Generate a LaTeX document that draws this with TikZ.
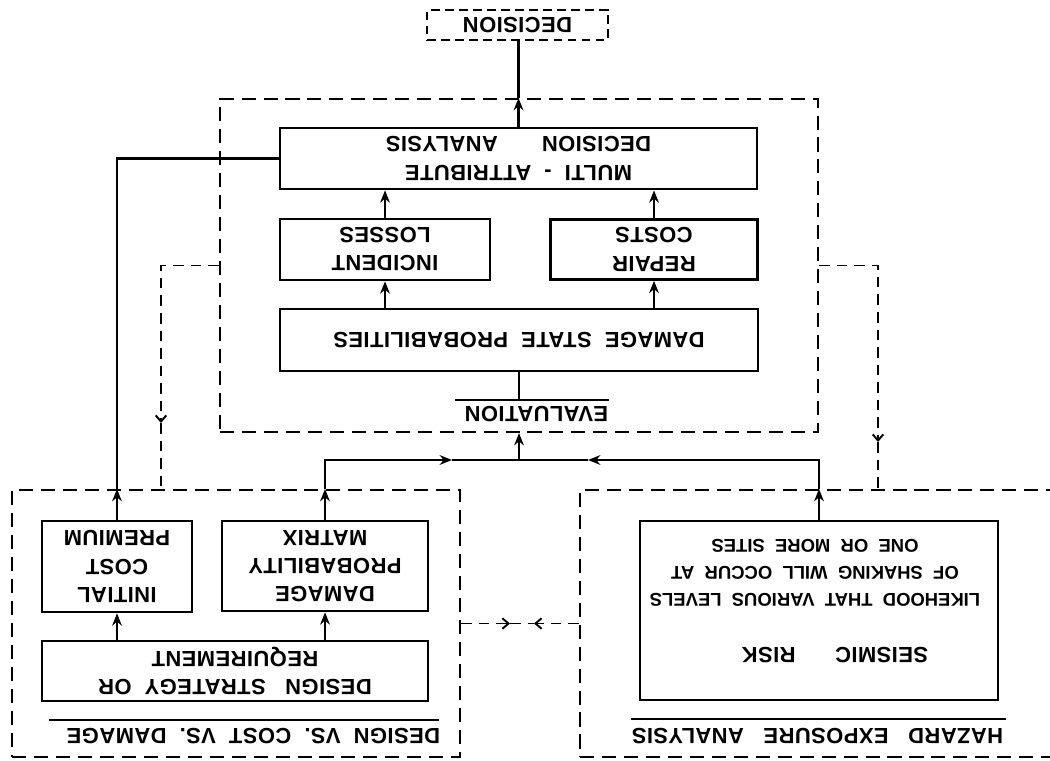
\documentclass[tikz,border=0pt]{standalone}
\usepackage{fontspec}
\setmainfont{Liberation Sans}
\newfontfamily\boxfont{Liberation Sans Bold}[LetterSpace=2]
\newfontfamily\notefont{Liberation Sans Bold}
\usetikzlibrary{arrows.meta, calc}
\tikzset{
    riskchart/.style={x=0.02cm, y=-0.02cm, every node/.style={rotate=180}},
    boxsize/.style 2 args={minimum width=#1*0.02cm, minimum height=#2*0.02cm},
    block/.style={draw, line width=1.5pt, align=center, inner sep=0pt, font=\boxfont\fontsize{12.5}{16}\selectfont},
    panel/.style={draw, line width=1.2pt, dash pattern=on 8pt off 4.5pt, inner sep=0pt},
    heading/.style={inner sep=0pt, font=\boxfont\fontsize{12.5}{16}\selectfont},
    wire/.style={line width=1.3pt},
    flow/.style={line width=1.3pt, -{Stealth[length=7pt, width=5.5pt]}},
    feedback/.style={line width=1.1pt, dash pattern=on 6pt off 4pt, -{Straight Barb[length=3.5pt, width=6pt]}},
}
\begin{document}
\begin{tikzpicture}[riskchart]
    \clip (0,0) rectangle (1050,760);
    \fill[white] (0,0) rectangle (1050,760);

    % dashed panels
    \node[panel, boxsize={598}{333}] (eval)   at (519,265.5) {};
    \node[panel, boxsize={448}{267}] (design) at (236,623.5) {};
    \node[panel, boxsize={480}{267}] (hazard) at (820,623.5) {};
    \node[panel, dash pattern=on 5pt off 3pt, boxsize={181}{30}, font=\boxfont\fontsize{12.5}{16}\selectfont] (decision) at (517.5,25) {DECISION};

    % evaluation
    \node[block, boxsize={477}{61}] (mad)    at (518.5,158.5) {MULTI~~-~~ATTRIBUTE\\DECISION\hspace{2em}ANALYSIS};
    \node[block, boxsize={210}{61}] (losses) at (385,249.5) {INCIDENT\\LOSSES};
    \node[block, boxsize={207}{60}] (repair) at (654,249.5) {REPAIR\\COSTS};
    \node[block, boxsize={478}{62}] (dsp)    at (519,340) {DAMAGE~~STATE~~PROBABILITIES};
    \node[heading] (evaltitle) at (536.5,414) {EVALUATION};

    % design vs cost vs damage
    \node[block, boxsize={150}{91}] (icp) at (117,566.5) {INITIAL\\COST\\PREMIUM};
    \node[block, boxsize={206}{90}] (dpm) at (325,566) {DAMAGE\\PROBABILITY\\MATRIX};
    \node[block, boxsize={386}{60}] (dsr) at (235,671) {DESIGN~~~STRATEGY~~OR\\REQUIREMENT};
    \node[heading] (designtitle) at (253.5,736) {DESIGN~~VS.~~COST~~VS.~~DAMAGE};

    % hazard exposure analysis
    \node[block, boxsize={358}{179}] (seismic) at (819,610.5) {};
    \node[heading] (risktitle) at (835,655) {SEISMIC\hspace{1.8em}RISK};
    \node[heading, align=center, font=\notefont\fontsize{10.5}{15.5}\selectfont] (risknote) at (815,573)
        {LIKEHOOD~~THAT~~VARIOUS~~LEVELS\\OF~~SHAKING~~WILL~~OCCUR~~AT\\ONE~~OR~~MORE~~SITES};
    \node[heading] (hazardtitle) at (817.5,736) {HAZARD~~~EXPOSURE~~~ANALYSIS};

    % title bars
    \draw[wire] ($(evaltitle.south west)+(0,-6)$) -- ($(evaltitle.south east)+(-9,-6)$);
    \draw[wire] ($(designtitle.south west)+(-2,-8)$) -- ($(designtitle.south east)+(-17,-8)$);
    \draw[wire] ($(hazardtitle.south west)+(2,-9)$) -- ($(hazardtitle.south east)+(0,-9)$);

    % into evaluation
    \coordinate (join)  at (519,460);
    \coordinate (joinl) at (452,460);
    \coordinate (joinr) at (588,460);
    \draw[flow] (dpm.south) -- (dpm.south |- design.south);
    \draw[flow] (dpm.south |- design.south) |- (joinl);
    \draw[wire] (joinl) -- (join);
    \draw[flow] (seismic.south) -- (seismic.south |- hazard.south);
    \draw[flow] (seismic.south |- hazard.south) |- (joinr);
    \draw[wire] (joinr) -- (join);
    \draw[flow] (join) -- (eval.north);

    % evaluation chain
    \coordinate (evalbar) at ($(evaltitle.south)+(0,-6)$);
    \draw[wire] (dsp.north) -- (dsp.north |- evalbar);
    \draw[flow] (losses.north |- dsp.south) -- (losses.north);
    \draw[flow] (repair.north |- dsp.south) -- (repair.north);
    \draw[flow] (losses.south) -- (losses.south |- mad.north);
    \draw[flow] (repair.south) -- (repair.south |- mad.north);
    \draw[flow] (mad.south) -- (mad.south |- eval.south);
    \draw[wire] (mad.south |- eval.south) -- (mad.south |- decision.north);

    % design strategy
    \draw[flow] (icp.north |- dsr.south) -- (icp.north);
    \draw[flow] (dpm.north |- dsr.south) -- (dpm.north);
    \draw[flow] (icp.south) -- (icp.south |- design.south);
    \draw[wire] (icp.south |- design.south) |- (mad.east);

    % feedback
    \coordinate (fbl)  at (161,423);
    \coordinate (fbr)  at (878,442);
    \coordinate (midl) at (510,623.5);
    \coordinate (midr) at (534,623.5);
    \draw[feedback] (eval.east) -| (fbl);
    \draw[feedback, -] (fbl) -- (fbl |- design.south);
    \draw[feedback] (eval.west) -| (fbr);
    \draw[feedback, -] (fbr) -- (fbr |- hazard.south);
    \draw[feedback] (design.west) -- (midl);
    \draw[feedback] (hazard.east) -- (midr);
    \draw[feedback, -] (midl) -- (midr);
\end{tikzpicture}
\end{document}
